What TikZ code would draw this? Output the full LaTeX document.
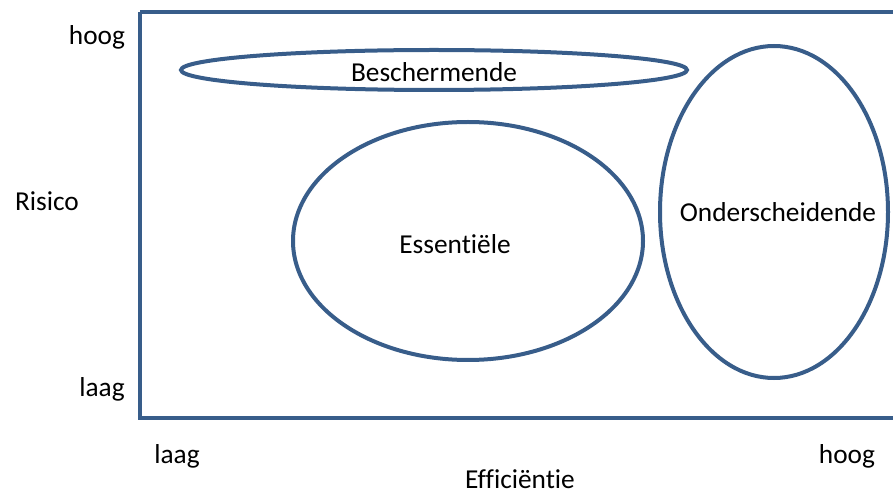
\documentclass[tikz,border=0pt]{standalone}
\usepackage{fontspec}
\setmainfont{Carlito}[Ligatures=NoCommon]
\definecolor{frameblue}{RGB}{56,93,138}
\begin{document}
\begin{tikzpicture}[x=0.75pt,y=-0.75pt,
  shape line/.style={draw=frameblue,line width=3pt},
  lbl/.style={font=\fontsize{20.5}{24}\selectfont,inner sep=0pt}]
\useasboundingbox (0,0) rectangle (893,495);
\draw[shape line] (140,12) -- (895,12) (140,12) -- (140,418) -- (895,418);
\draw[shape line] (434,70) ellipse [x radius=253, y radius=20];
\draw[shape line] (468,241) ellipse [x radius=175, y radius=119];
\draw[shape line] (774,212) ellipse [x radius=114, y radius=166];
\node[lbl] (besch) at (434,72) {Beschermende};
\node[lbl] (ess) at (455,244) {Essentiële};
\node[lbl] (ond) at (778,212) {Onderscheidende};
\node[lbl] (rh) at (97,37) {hoog};
\node[lbl] (risico) at (47,201) {Risico};
\node[lbl] (rl) at (102,389) {laag};
\node[lbl] (el) at (177,456) {laag};
\node[lbl] (eh) at (847,456) {hoog};
\node[lbl] (eff) at (520,479) {Efficiëntie};
\end{tikzpicture}
\end{document}
